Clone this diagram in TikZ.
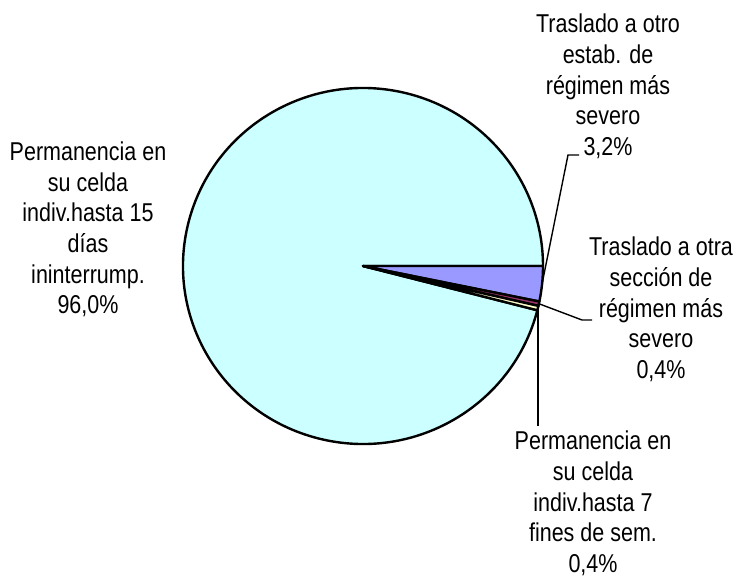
\documentclass[tikz,border=0pt]{standalone}
\usepackage{fontspec}
\setmainfont{Liberation Sans}
\usepackage{graphicx}
\usetikzlibrary{calc}
\definecolor{pcyan}{HTML}{CCFFFF}
\definecolor{pblue}{HTML}{9999FF}
\definecolor{pmag}{HTML}{993366}
\definecolor{pyel}{HTML}{FFFFCC}
\newcommand\lbl[1]{\scalebox{1}[1.2]{\begin{tabular}{@{}c@{}}#1\end{tabular}}}
\tikzset{
  slice/.style={draw=black, line width=2.4pt, line join=round},
  leader/.style={draw=black, line width=1.4pt},
  lab/.style={inner sep=0pt, font=\fontsize{21.5}{25.6}\selectfont}
}
\begin{document}
\begin{tikzpicture}[x=1pt,y=-1pt]
\useasboundingbox (0,0) rectangle (737,577);
\coordinate (c) at (363,266);
% slices (angles run clockwise visually because y is flipped)
\path[slice, fill=pcyan] (c) -- ++(14.4:180 and 178) arc[start angle=14.4, end angle=360, x radius=180, y radius=178] -- cycle;
\path[slice, fill=pblue] (c) -- ++(0:180 and 178) arc[start angle=0, end angle=11.52, x radius=180, y radius=178] -- cycle;
\path[slice, fill=pmag] (c) -- ++(11.52:180 and 178) arc[start angle=11.52, end angle=12.96, x radius=180, y radius=178] -- cycle;
\path[slice, fill=pyel] (c) -- ++(12.96:180 and 178) arc[start angle=12.96, end angle=14.4, x radius=180, y radius=178] -- cycle;
% leader points
\coordinate (mA) at ($(c)+(5.76:180 and 178)$);
\coordinate (mB) at ($(c)+(12.24:180 and 178)$);
\coordinate (mC) at ($(c)+(13.68:180 and 178)$);
\coordinate (bA) at (568,155);
\coordinate (eA) at (579,155);
\coordinate (bB) at (582,320);
\coordinate (eB) at (592,320);
\coordinate (eC) at (538,426);
\draw[leader] (mA) -- (bA) -- (eA);
\draw[leader] (mB) -- (bB) -- (eB);
\draw[leader] (mC) -- (mC |- eC);
% labels
\node[lab] (lA) at (608,88) {\lbl{Traslado a otro\\estab. de\\régimen más\\severo\\3,2\%}};
\node[lab] (lB) at (661,311) {\lbl{Traslado a otra\\sección de\\régimen más\\severo\\0,4\%}};
\node[lab] (lC) at (593,505) {\lbl{Permanencia en\\su celda\\indiv.hasta 7\\fines de sem.\\0,4\%}};
\node[lab] (lD) at (88,231) {\lbl{Permanencia en\\su celda\\indiv.hasta 15\\días\\ininterrump.\\96,0\%}};
\end{tikzpicture}
\end{document}
